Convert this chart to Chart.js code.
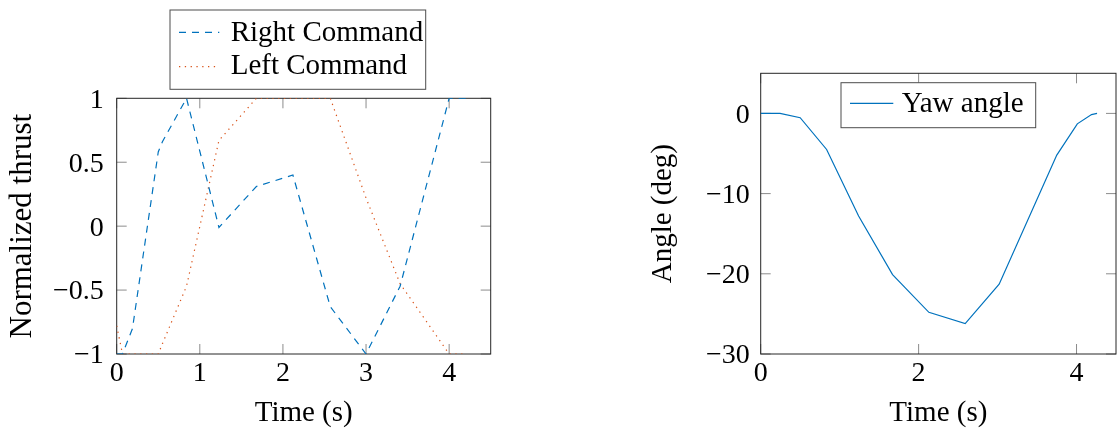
<!DOCTYPE html>
<html>
<head>
<meta charset="utf-8">
<script src="https://cdn.jsdelivr.net/npm/chart.js@4.4.1/dist/chart.umd.min.js"></script>
<style>
  html, body { margin: 0; padding: 0; background: #fff; }
  .wrap { position: absolute; top: 0; width: 559px; height: 433px; }
</style>
</head>
<body>
<div class="wrap" style="left:0"><canvas id="thrustChart" width="559" height="433"></canvas></div>
<div class="wrap" style="left:559px"><canvas id="yawChart" width="559" height="433"></canvas></div>
<script>
// values
const thrustTime = [0, 0.07, 0.19, 0.5, 0.55, 0.84, 1.23, 1.68, 2.12, 2.57, 3.0, 3.41, 4.0, 4.2];
const rightCommand = [-1, -1, -0.8, 0.58, 0.66, 1.0, -0.01, 0.31, 0.4, -0.63, -1, -0.47, 1, 1];
const leftCommand = [-0.78, -1, -1, -1, -0.92, -0.47, 0.67, 1, 1, 1, 0.22, -0.45, -1, -1];

const yawTime = [0, 0.245, 0.5, 0.835, 1.24, 1.67, 2.13, 2.59, 3.02, 3.75, 4.01, 4.19, 4.26];
const yawAngle = [0, 0, -0.54, -4.5, -12.8, -20.1, -24.8, -26.2, -21.3, -5.2, -1.3, -0.15, 0];

const thrustTimeTicks = [0, 1, 2, 3, 4];
const thrustTicks = [-1, -0.5, 0, 0.5, 1];
const yawTimeTicks = [0, 2, 4];
const angleTicks = [-30, -20, -10, 0];

const BLUE = '#0072BD';
const RED = '#D95319';
const FONT = "'Liberation Serif', 'Times New Roman', serif";
const TEXT_SIZE = 29;

Chart.defaults.color = '#000';
Chart.defaults.font.family = FONT;
Chart.defaults.font.size = 28;

const zip = (xs, ys) => xs.map((x, i) => ({ x: x, y: ys[i] }));
const fmt = v => (v < 0 ? '\u2212' + Math.abs(v) : String(v));

// pgfplots style frame with inward ticks on all four sides
const axisFrame = {
  id: 'axisFrame',
  beforeDatasetsDraw(chart) {
    const { ctx, chartArea: a, scales: { x, y } } = chart;
    ctx.save();
    ctx.lineWidth = 1;
    ctx.strokeStyle = '#8c8c8c';
    ctx.beginPath();
    x.ticks.forEach(t => {
      const px = x.getPixelForValue(t.value);
      ctx.moveTo(px, a.bottom); ctx.lineTo(px, a.bottom - 10);
      ctx.moveTo(px, a.top); ctx.lineTo(px, a.top + 10);
    });
    y.ticks.forEach(t => {
      const py = y.getPixelForValue(t.value);
      ctx.moveTo(a.left, py); ctx.lineTo(a.left + 10, py);
      ctx.moveTo(a.right, py); ctx.lineTo(a.right - 10, py);
    });
    ctx.stroke();
    ctx.strokeStyle = '#262626';
    ctx.strokeRect(a.left, a.top, a.right - a.left, a.bottom - a.top);
    ctx.restore();
  }
};

// boxed legend like the pgfplots one
const boxLegend = {
  id: 'boxLegend',
  afterDraw(chart, args, opts) {
    const ctx = chart.ctx;
    const b = opts.box;
    ctx.save();
    ctx.fillStyle = '#fff';
    ctx.fillRect(b.x, b.y, b.w, b.h);
    ctx.strokeStyle = '#4d4d4d';
    ctx.lineWidth = 1;
    ctx.strokeRect(b.x, b.y, b.w, b.h);
    chart.data.datasets.forEach((ds, i) => {
      const row = opts.rows[i];
      ctx.strokeStyle = ds.borderColor;
      ctx.lineWidth = ds.borderWidth;
      ctx.setLineDash(ds.borderDash || []);
      ctx.beginPath();
      ctx.moveTo(opts.lineX[0], row.lineY);
      ctx.lineTo(opts.lineX[1], row.lineY);
      ctx.stroke();
      ctx.setLineDash([]);
      ctx.fillStyle = '#000';
      ctx.font = TEXT_SIZE + 'px ' + FONT;
      ctx.textBaseline = 'alphabetic';
      ctx.fillText(ds.label, opts.textX, row.baseline);
    });
    ctx.restore();
  }
};

function axes(cfg) {
  return {
    x: {
      type: 'linear', min: 0, max: 4.5,
      afterFit: s => { s.height = 77; },
      afterBuildTicks: s => { s.ticks = cfg.xTicks.map(v => ({ value: v })); },
      grid: { display: false, drawTicks: false },
      border: { display: false },
      ticks: { padding: 3, callback: fmt, maxRotation: 0 },
      title: { display: true, text: 'Time (s)', padding: 0, font: { size: TEXT_SIZE } }
    },
    y: {
      type: 'linear', min: cfg.yMin, max: cfg.yMax,
      afterFit: s => { s.width = cfg.yWidth; },
      afterBuildTicks: s => { s.ticks = cfg.yTicks.map(v => ({ value: v })); },
      grid: { display: false, drawTicks: false },
      border: { display: false },
      ticks: { padding: cfg.tickPad, callback: fmt, labelOffset: 2 },
      title: { display: true, text: cfg.yTitle, padding: 0, font: { size: cfg.yTitleSize } }
    }
  };
}

new Chart(document.getElementById('thrustChart'), {
  type: 'line',
  data: {
    datasets: [
      {
        label: 'Right Command',
        data: zip(thrustTime, rightCommand),
        borderColor: BLUE, borderWidth: 1.2, borderDash: [7, 6],
        pointRadius: 0, tension: 0, fill: false
      },
      {
        label: 'Left Command',
        data: zip(thrustTime, leftCommand),
        borderColor: RED, borderWidth: 1.2, borderDash: [1.3, 4.5],
        pointRadius: 0, tension: 0, fill: false
      }
    ]
  },
  options: {
    responsive: false,
    animation: false,
    layout: { padding: { left: 4.2, top: 98.3, right: 68.3, bottom: 2 } },
    scales: axes({ xTicks: thrustTimeTicks, yTicks: thrustTicks, yMin: -1, yMax: 1, yWidth: 112.5, tickPad: 13, yTitle: 'Normalized thrust', yTitleSize: 31 }),
    plugins: {
      legend: { display: false },
      tooltip: { enabled: false },
      boxLegend: {
        box: { x: 170, y: 10, w: 255.7, h: 79.3 },
        lineX: [179, 219.3],
        textX: 230.7,
        rows: [{ lineY: 32.3, baseline: 40.7 }, { lineY: 66.7, baseline: 74 }]
      }
    }
  },
  plugins: [axisFrame, boxLegend]
});

new Chart(document.getElementById('yawChart'), {
  type: 'line',
  data: {
    datasets: [
      {
        label: 'Yaw angle',
        data: zip(yawTime, yawAngle),
        borderColor: BLUE, borderWidth: 1.2,
        pointRadius: 0, tension: 0, fill: false
      }
    ]
  },
  options: {
    responsive: false,
    animation: false,
    layout: { padding: { left: 87.1, top: 73.3, right: 2, bottom: 2 } },
    scales: axes({ xTicks: yawTimeTicks, yTicks: angleTicks, yMin: -30, yMax: 5, yWidth: 114.6, tickPad: 11, yTitle: 'Angle (deg)', yTitleSize: TEXT_SIZE }),
    plugins: {
      legend: { display: false },
      tooltip: { enabled: false },
      boxLegend: {
        box: { x: 282, y: 82.7, w: 194.7, h: 45 },
        lineX: [291, 334.3],
        textX: 342.7,
        rows: [{ lineY: 103.3, baseline: 112.3 }]
      }
    }
  },
  plugins: [axisFrame, boxLegend]
});
</script>
</body>
</html>
